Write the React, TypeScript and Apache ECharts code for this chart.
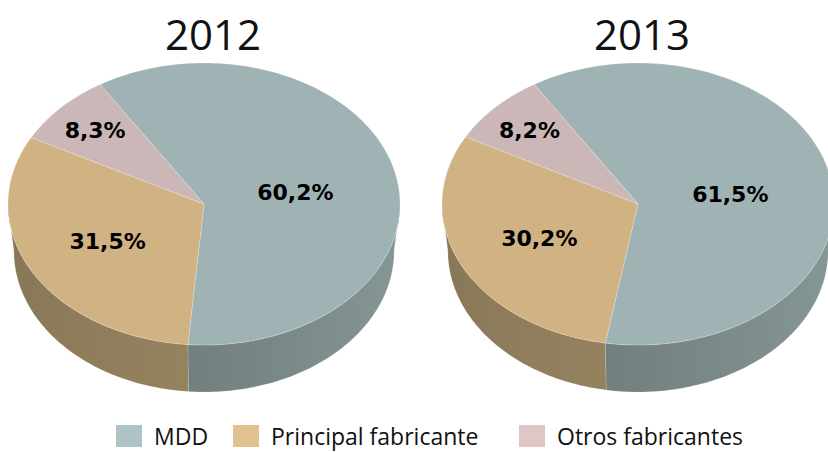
import React, { useEffect, useRef } from "react";
import * as echarts from "echarts";

const years = ["2012", "2013"];
const categories = ["MDD", "Principal fabricante", "Otros fabricantes"];
const mddValues = [60.2, 61.5];
const principalValues = [31.5, 30.2];
const otrosValues = [8.3, 8.2];
const seriesValues = [mddValues, principalValues, otrosValues];

const legendColors = ["#aec3c6", "#e1c28e", "#dfc7c8"];
const topColors = ["#a0b3b4", "#d0b283", "#cbb7b8"];
const sideColors = [
  ["#717f7e", "#849695"],
  ["#897858", "#95825f"],
  ["#8f7f80", "#9d8c8d"],
];

const centersX = [204, 638];
const titleX = [213, 642];
const legendLeft = [116, 233, 519];
const CY = 204;
const RX = 196;
const RY = 141;
const DEPTH = 47;
const BOTTOM_SCALE = 0.97;
const START_DEG = 122;

const rad = (d: number) => (d * Math.PI) / 180;

function renderItem(params: any) {
  const s = params.seriesIndex;
  const y = params.dataIndex;
  const cx = centersX[y];
  let total = 0;
  let before = 0;
  for (let k = 0; k < seriesValues.length; k++) {
    total += seriesValues[k][y];
    if (k < s) before += seriesValues[k][y];
  }
  const v = seriesValues[s][y];
  const a0 = START_DEG - (before / total) * 360;
  const a1 = a0 - (v / total) * 360;

  const topPt = (t: number) => [cx + RX * Math.cos(rad(t)), CY - RY * Math.sin(rad(t))];
  const botPt = (t: number) => [
    cx + RX * BOTTOM_SCALE * Math.cos(rad(t)),
    CY + DEPTH - RY * Math.sin(rad(t)),
  ];

  const angles: number[] = [];
  for (let t = a0; t > a1; t -= 1) angles.push(t);
  angles.push(a1);
  const withCuts: number[] = [];
  for (let i = 0; i < angles.length; i++) {
    withCuts.push(angles[i]);
    if (i < angles.length - 1) {
      const hi = angles[i];
      const lo = angles[i + 1];
      const m = Math.floor(hi / 180) * 180;
      if (m < hi && m > lo) withCuts.push(m);
    }
  }

  const children: any[] = [];
  let run: number[] = [];
  const runs: number[][] = [];
  for (const t of withCuts) {
    if (Math.sin(rad(t)) <= 1e-6) run.push(t);
    else {
      if (run.length > 1) runs.push(run);
      run = [];
    }
  }
  if (run.length > 1) runs.push(run);

  for (const r of runs) {
    const pts = r.map(topPt).concat(r.slice().reverse().map(botPt));
    children.push({
      type: "polygon",
      shape: { points: pts },
      style: {
        fill: new echarts.graphic.LinearGradient(0, 0, 1, 0, [
          { offset: 0, color: sideColors[s][0] },
          { offset: 1, color: sideColors[s][1] },
        ]),
        stroke: "rgba(255,255,255,0.25)",
        lineWidth: 0.6,
      },
    });
  }

  const topPts = [[cx, CY]].concat(angles.map(topPt));
  children.push({
    type: "polygon",
    shape: { points: topPts },
    style: { fill: topColors[s], stroke: "rgba(255,255,255,0.35)", lineWidth: 0.6 },
  });

  const frac = v / total;
  const mid = (a0 + a1) / 2;
  const f = frac < 0.15 ? 0.76 : frac > 0.5 ? 0.48 : 0.56;
  children.push({
    type: "text",
    style: {
      text: v.toFixed(1).replace(".", ",") + "%",
      x: cx + RX * f * Math.cos(rad(mid)),
      y: CY - RY * f * Math.sin(rad(mid)) + (frac > 0.5 ? 4 : 0),
      align: "center",
      verticalAlign: "middle",
      font: 'bold 22px "DejaVu Sans"',
      fill: "#000",
    },
  });

  return { type: "group", children };
}

export default function App() {
  const ref = useRef<HTMLDivElement>(null);
  useEffect(() => {
    const chart = echarts.init(ref.current!, undefined, { renderer: "svg" });
    chart.setOption({
      animation: false,
      backgroundColor: "#ffffff",
      graphic: years.map((yr, i) => ({
        type: "text",
        x: titleX[i],
        y: 33,
        style: {
          text: yr,
          align: "center",
          verticalAlign: "middle",
          font: '42px "Open Sans"',
          fill: "#111",
        },
      })),
      legend: categories.map((c, i) => ({
        data: [c],
        left: legendLeft[i],
        top: 424,
        padding: 0,
        icon: "rect",
        itemWidth: 26,
        itemHeight: 22,
        selectedMode: false,
        textStyle: {
          fontSize: 23,
          lineHeight: 24,
          fontFamily: "Open Sans",
          color: "#111",
          padding: [0, 0, 0, 7],
        },
      })),
      series: categories.map((name, i) => ({
        type: "custom",
        name,
        coordinateSystem: "none",
        renderItem,
        silent: true,
        itemStyle: { color: legendColors[i] },
        data: years.map((_, j) => [j, seriesValues[i][j]]),
      })),
    });
    return () => chart.dispose();
  }, []);
  return (
    <div
      ref={ref}
      style={{ position: "fixed", left: 0, top: 0, width: 828, height: 452 }}
    />
  );
}
